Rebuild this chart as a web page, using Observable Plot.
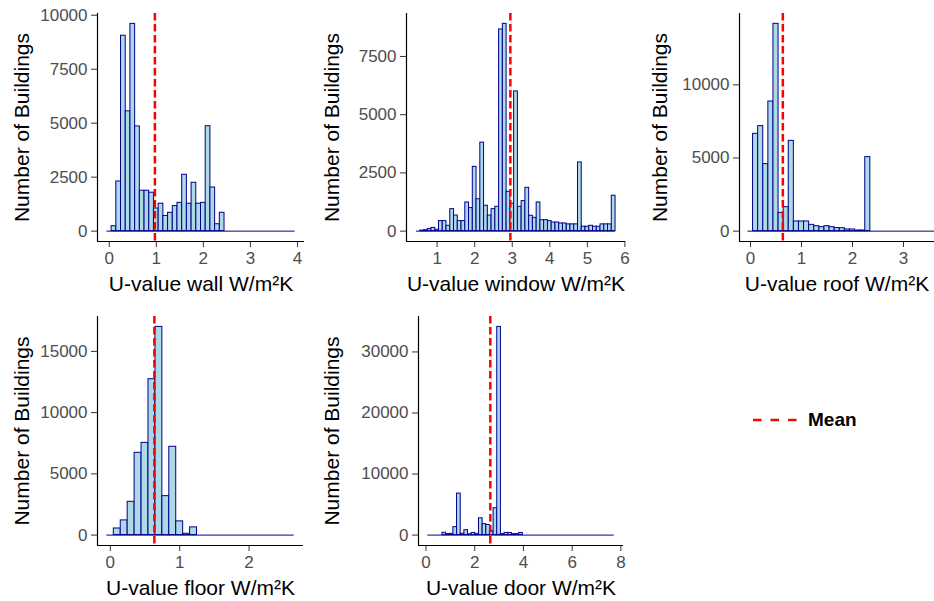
<!DOCTYPE html>
<html><head><meta charset="utf-8">
<script src="https://cdn.jsdelivr.net/npm/d3@7"></script>
<script src="https://cdn.jsdelivr.net/npm/@observablehq/plot@0.6"></script>
<style>
body{margin:0;background:#fff;}
#root{position:relative;width:934px;height:601px;overflow:hidden;font-family:"Liberation Sans",Arial,sans-serif;background:#fff;}
#root > svg{position:absolute;}
#legend{position:absolute;left:752px;top:408px;height:24px;display:flex;align-items:center;}
#legend span{margin-left:10px;font-weight:bold;font-size:19px;color:#000;}
</style></head><body><div id="root"><div id="legend"><svg width="46" height="24"><line x1="1" x2="45" y1="12" y2="12" stroke="#FF0000" stroke-width="2.5" stroke-dasharray="8.5,9"/></svg><span>Mean</span></div></div>
<script>
// ---- data (bin counts) ----
const yTitle = "Number of Buildings";

const wallLabel = "U-value wall W/m²K";
const wallFirstCenter = 0.0, wallBinWidth = 0.1, wallMean = 0.97;
const wallCounts = [0, 230, 2300, 9050, 5550, 9600, 4850, 1870, 1870, 1780, 1050, 1270, 700, 850, 1160, 1310, 2610, 1270, 2240, 1270, 1310, 4860, 2020, 320, 850,
  0, 0, 0, 0, 0, 0, 0, 0, 0, 0, 0, 0, 0, 0, 0];
const wallXTicks = [0, 1, 2, 3, 4];
const wallYTicks = [0, 2500, 5000, 7500, 10000];

const windowLabel = "U-value window W/m²K";
const windowFirstCenter = 0.5, windowBinWidth = 0.1, windowMean = 2.95;
const windowCounts = [0, 20, 40, 90, 140, 60, 430, 430, 230, 945, 670, 430, 430, 1230, 990, 2760, 1370, 3800, 1090, 670, 945, 1045,
  8660, 8900, 1690, 1180, 6000, 1045, 1290, 1860, 660, 570, 1230, 470, 470, 430, 370, 370, 330, 330, 290, 290, 290, 2950,
  190, 190, 230, 190, 190, 290, 290, 290, 1520];
const windowXTicks = [1, 2, 3, 4, 5, 6];
const windowYTicks = [0, 2500, 5000, 7500];

const roofLabel = "U-value roof W/m²K";
const roofFirstCenter = 0.0, roofBinWidth = 0.1, roofMean = 0.634;
const roofCounts = [0, 6650, 7180, 4580, 8860, 14170, 1250, 1640, 6170, 660, 660, 660, 430, 340, 270, 340, 270, 210, 200, 115, 115, 45, 45, 5060,
  0, 0, 0, 0, 0, 0, 0, 0, 0, 0, 0, 0, 0];
const roofXTicks = [0, 1, 2, 3];
const roofYTicks = [0, 5000, 10000];

const floorLabel = "U-value floor W/m²K";
const floorFirstCenter = 0.0, floorBinWidth = 0.1, floorMean = 0.635;
const floorCounts = [0, 540, 1200, 2720, 6720, 7530, 12730, 17000, 3180, 7210, 1120, 110, 630,
  0, 0, 0, 0, 0, 0, 0, 0, 0, 0, 0, 0, 0, 0];
const floorXTicks = [0, 1, 2];
const floorYTicks = [0, 5000, 10000, 15000];

const doorLabel = "U-value door W/m²K";
const doorFirstCenter = 0.15, doorBinWidth = 0.15, doorMean = 2.64;
const doorCounts = [0, 0, 0, 0, 380, 150, 200, 1300, 6800, 220, 800, 120, 350, 150, 2750, 1800, 1650, 650, 4400, 34100, 150, 350, 350, 150, 150, 350,
  0, 0, 0, 0, 0, 0, 0, 0, 0, 0, 0, 0, 0, 0, 0, 0, 0, 0, 0, 0, 0, 0, 0, 0, 0];
const doorXTicks = [0, 2, 4, 6, 8];
const doorYTicks = [0, 10000, 20000, 30000];

// ---- drawing ----
const FONT = '"Liberation Sans", Arial, sans-serif';
const root = document.getElementById("root");

function panel(cfg) {
  const {counts, first, bw, mean, xDomain, yDomain, xTicks, yTicks, xLabel, box, frame, yLabelX} = cfg;
  const data = counts.map((n, i) => ({x1: first + i * bw - bw / 2, x2: first + i * bw + bw / 2, n}));
  const lo = data[0].x1, hi = data[data.length - 1].x2;
  const svg = Plot.plot({
    width: box.w, height: box.h,
    marginLeft: frame.l - box.x, marginRight: box.x + box.w - frame.r,
    marginTop: frame.t - box.y, marginBottom: box.y + box.h - frame.b,
    x: {domain: xDomain},
    y: {domain: yDomain},
    style: {fontFamily: FONT, background: "none", overflow: "visible"},
    marks: [
      Plot.rect(data.filter(d => d.n > 0), {x1: "x1", x2: "x2", y1: 0, y2: "n", fill: "#ADD8E6", stroke: "#00008B", strokeWidth: 1}),
      Plot.ruleY([0], {x1: lo, x2: hi, stroke: "#00008B", strokeWidth: 1}),
      Plot.ruleX([mean], {stroke: "#FF0000", strokeWidth: 2.5, strokeDasharray: "7.5,3.5"}),
      Plot.axisX(xTicks, {tickSize: 6, tickPadding: 4, fontSize: 17, stroke: "#333333", fill: "#4D4D4D", label: null, tickFormat: "d"}),
      Plot.axisY(yTicks, {tickSize: 6, tickPadding: 4, fontSize: 17, stroke: "#333333", fill: "#4D4D4D", label: null, tickFormat: "d"}),
      Plot.ruleX([xDomain[0]], {stroke: "#000", strokeWidth: 1.2}),
      Plot.ruleY([yDomain[0]], {stroke: "#000", strokeWidth: 1.2}),
      Plot.text([xLabel], {text: d => d, frameAnchor: "bottom", textAnchor: "middle", lineAnchor: "middle", dy: 43, fontSize: 21, fill: "#000"}),
      Plot.text([yTitle], {text: d => d, frameAnchor: "left", textAnchor: "middle", lineAnchor: "middle", dx: yLabelX - frame.l, rotate: -90, fontSize: 21, fill: "#000"})
    ]
  });
  svg.style.left = box.x + "px";
  svg.style.top = box.y + "px";
  root.appendChild(svg);
}

panel({counts: wallCounts, first: wallFirstCenter, bw: wallBinWidth, mean: wallMean,
  xDomain: [-0.25, 4.15], yDomain: [-480, 10080], xTicks: wallXTicks, yTicks: wallYTicks, xLabel: wallLabel,
  box: {x: 0, y: 0, w: 311, h: 300}, frame: {l: 97, r: 304, t: 13, b: 241}, yLabelX: 22});

panel({counts: windowCounts, first: windowFirstCenter, bw: windowBinWidth, mean: windowMean,
  xDomain: [0.185, 6.015], yDomain: [-445, 9345], xTicks: windowXTicks, yTicks: windowYTicks, xLabel: windowLabel,
  box: {x: 311, y: 0, w: 319, h: 300}, frame: {l: 406, r: 625, t: 13, b: 241}, yLabelX: 332});

panel({counts: roofCounts, first: roofFirstCenter, bw: roofBinWidth, mean: roofMean,
  xDomain: [-0.216, 3.608], yDomain: [-708, 14877], xTicks: roofXTicks, yTicks: roofYTicks, xLabel: roofLabel,
  box: {x: 630, y: 0, w: 304, h: 300}, frame: {l: 739, r: 934, t: 13, b: 241}, yLabelX: 660});

panel({counts: floorCounts, first: floorFirstCenter, bw: floorBinWidth, mean: floorMean,
  xDomain: [-0.185, 2.785], yDomain: [-850, 17850], xTicks: floorXTicks, yTicks: floorYTicks, xLabel: floorLabel,
  box: {x: 0, y: 300, w: 311, h: 301}, frame: {l: 97, r: 303, t: 316, b: 545}, yLabelX: 22});

panel({counts: doorCounts, first: doorFirstCenter, bw: doorBinWidth, mean: doorMean,
  xDomain: [-0.3075, 8.1075], yDomain: [-1705, 35805], xTicks: doorXTicks, yTicks: doorYTicks, xLabel: doorLabel,
  box: {x: 311, y: 300, w: 319, h: 301}, frame: {l: 418, r: 623, t: 316, b: 545}, yLabelX: 332});
</script>
</body></html>
